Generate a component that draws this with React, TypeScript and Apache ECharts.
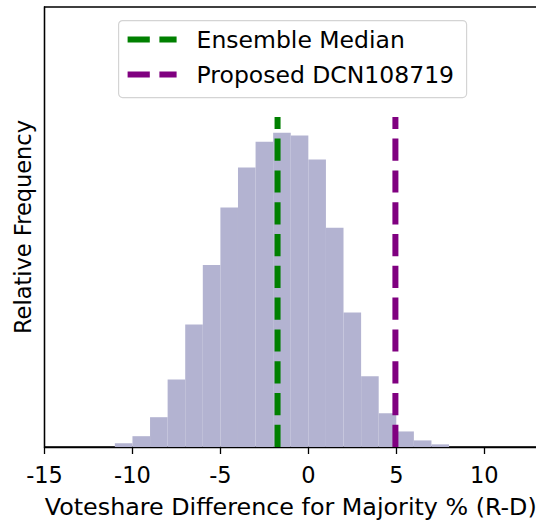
import React, { useEffect, useRef } from "react";
import * as echarts from "echarts";

// Histogram bins (left edges, width 1) and relative frequencies
const binStarts = [-11, -10, -9, -8, -7, -6, -5, -4, -3, -2, -1, 0, 1, 2, 3, 4, 5, 6, 7];
const binWidth = 1;
const frequencies = [
  0.0014, 0.0041, 0.0113, 0.0256, 0.0465, 0.069, 0.0908, 0.106, 0.1158, 0.1192,
  0.1181, 0.109, 0.0832, 0.051, 0.0268, 0.0128, 0.0059, 0.0025, 0.001,
];
const ensembleMedian = -1.75;
const proposedValue = 4.95;
const legendLabels = ["Ensemble Median", "Proposed DCN108719"];
const xTickMin = -15;
const xTickInterval = 5;
const xMax = 13;

const FONT = "DejaVu Sans";

export default function App() {
  const ref = useRef<HTMLDivElement>(null);

  useEffect(() => {
    if (!ref.current) return;
    const chart = echarts.init(ref.current, undefined, { renderer: "svg" });
    const maxFreq = Math.max(...frequencies);
    const lineTop = maxFreq * 1.05;
    const yMax = maxFreq * 1.4;

    const histData = binStarts.map((s, i) => [s, s + binWidth, frequencies[i]]);

    chart.setOption({
      animation: false,
      grid: {
        left: 44.5,
        top: 7,
        width: 492.5,
        height: 440,
        containLabel: false,
        outerBoundsMode: "none",
        show: true,
        borderColor: "#000",
        borderWidth: 1.3,
        backgroundColor: "transparent",
      },
      xAxis: {
        type: "value",
        min: xTickMin,
        max: xMax,
        interval: xTickInterval,
        name: "Voteshare Difference for Majority % (R-D)",
        nameLocation: "middle",
        nameGap: 48,
        nameTextStyle: { fontFamily: FONT, fontSize: 23.8, color: "#000" },
        axisLine: { show: true, onZero: false, lineStyle: { color: "#000", width: 1.3 } },
        axisTick: { show: true, length: 7, lineStyle: { color: "#000", width: 1.3 } },
        axisLabel: {
          fontFamily: FONT,
          fontSize: 22.5,
          color: "#000",
          margin: 16,
          showMaxLabel: false,
        },
        splitLine: { show: false },
      },
      yAxis: {
        type: "value",
        min: 0,
        max: yMax,
        name: "Relative Frequency",
        nameLocation: "middle",
        nameGap: 10,
        nameTextStyle: { fontFamily: FONT, fontSize: 22.5, color: "#000" },
        axisLine: { show: true, onZero: false, lineStyle: { color: "#000", width: 1.3 } },
        axisTick: { show: false },
        axisLabel: { show: false },
        splitLine: { show: false },
      },
      series: [
        {
          type: "custom",
          data: histData,
          encode: { x: [0, 1], y: 2 },
          renderItem: (params: any, api: any) => {
            const x0 = api.value(0);
            const x1 = api.value(1);
            const h = api.value(2);
            const p0 = api.coord([x0, h]);
            const p1 = api.coord([x1, 0]);
            return {
              type: "rect",
              shape: { x: p0[0], y: p0[1], width: p1[0] - p0[0], height: p1[1] - p0[1] },
              style: { fill: "#b3b3d1" },
            };
          },
          z: 1,
        },
        {
          type: "line",
          name: legendLabels[0],
          data: [
            [ensembleMedian, 0],
            [ensembleMedian, lineTop],
          ],
          symbol: "none",
          lineStyle: { color: "#008000", width: 6, type: [22.2, 9.6] },
          z: 3,
        },
        {
          type: "line",
          name: legendLabels[1],
          data: [
            [proposedValue, 0],
            [proposedValue, lineTop],
          ],
          symbol: "none",
          lineStyle: { color: "#800080", width: 6, type: [22.2, 9.6] },
          z: 3,
        },
      ],
      graphic: [
        {
          type: "group",
          left: 118,
          top: 20,
          children: [
            {
              type: "rect",
              shape: { x: 0, y: 0, width: 348, height: 77, r: 4 },
              style: { fill: "#fff", stroke: "#d4d4d4", lineWidth: 1.2 },
            },
            {
              type: "line",
              shape: { x1: 9, y1: 19, x2: 58, y2: 19 },
              style: { stroke: "#008000", lineWidth: 6, lineDash: [22.2, 9.6] },
            },
            {
              type: "line",
              shape: { x1: 9, y1: 54, x2: 58, y2: 54 },
              style: { stroke: "#800080", lineWidth: 6, lineDash: [22.2, 9.6] },
            },
            {
              type: "text",
              x: 78,
              y: 19,
              style: {
                text: legendLabels[0],
                fontFamily: FONT,
                fontSize: 23.5,
                fill: "#000",
                verticalAlign: "middle",
              },
            },
            {
              type: "text",
              x: 78,
              y: 54,
              style: {
                text: legendLabels[1],
                fontFamily: FONT,
                fontSize: 23.5,
                fill: "#000",
                verticalAlign: "middle",
              },
            },
          ],
        },
      ],
    });

    return () => {
      chart.dispose();
    };
  }, []);

  return (
    <div
      ref={ref}
      style={{ position: "absolute", left: 0, top: 0, width: 536, height: 525, background: "#fff" }}
    />
  );
}
